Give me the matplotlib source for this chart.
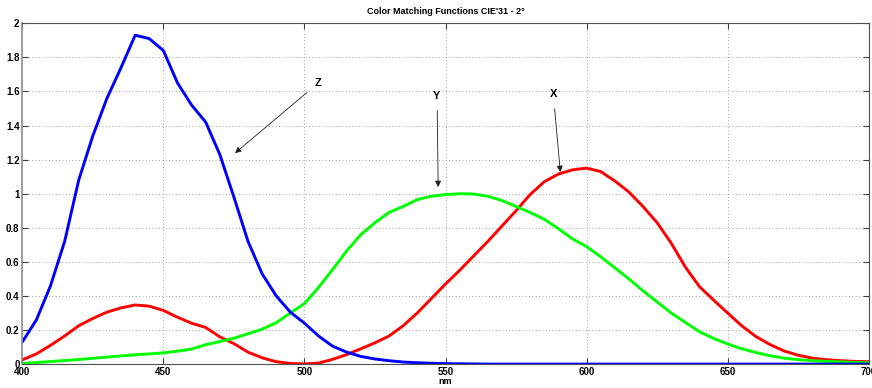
import numpy as np
import matplotlib
matplotlib.use('Agg')
import matplotlib.pyplot as plt

# wavelengths (nm), 5 nm steps
wavelengths = np.arange(400, 705, 5)

x_bar = [0.025, 0.06, 0.11, 0.165, 0.225, 0.268, 0.305, 0.33, 0.347, 0.34,
         0.315, 0.275, 0.24, 0.215, 0.16, 0.12, 0.07, 0.037, 0.014, 0.004,
         0.001, 0.006, 0.028, 0.056, 0.09, 0.125, 0.165, 0.225, 0.30, 0.385,
         0.47, 0.55, 0.635, 0.72, 0.81, 0.90, 0.995, 1.07, 1.115, 1.14,
         1.15, 1.13, 1.075, 1.01, 0.925, 0.83, 0.71, 0.57, 0.455, 0.376,
         0.30, 0.225, 0.162, 0.115, 0.077, 0.052, 0.035, 0.026, 0.02, 0.016,
         0.014]

y_bar = [0.004, 0.009, 0.015, 0.021, 0.027, 0.034, 0.041, 0.048, 0.055, 0.06,
         0.066, 0.076, 0.088, 0.114, 0.132, 0.152, 0.178, 0.205, 0.243, 0.30,
         0.355, 0.45, 0.555, 0.665, 0.76, 0.83, 0.89, 0.925, 0.965, 0.985,
         0.995, 1.0, 0.998, 0.985, 0.96, 0.925, 0.89, 0.85, 0.795, 0.735,
         0.69, 0.63, 0.565, 0.50, 0.43, 0.365, 0.30, 0.245, 0.19, 0.151,
         0.118, 0.09, 0.068, 0.049, 0.035, 0.026, 0.02, 0.016, 0.013, 0.01,
         0.008]

z_bar = [0.13, 0.26, 0.46, 0.72, 1.08, 1.34, 1.56, 1.74, 1.93, 1.91,
         1.84, 1.65, 1.52, 1.42, 1.23, 0.98, 0.72, 0.53, 0.40, 0.305,
         0.24, 0.165, 0.105, 0.07, 0.045, 0.03, 0.02, 0.012, 0.008, 0.005,
         0.003, 0.002, 0.001] + [0.0] * 28

# label text, arrow tip, text position (data coords)
labels = ['Z', 'Y', 'X']
tips = [(475.4, 1.238), (547.4, 1.039), (590.7, 1.127)]
text_pos = [(504.9, 1.65), (547.0, 1.575), (588.2, 1.585)]

x_ticks = [400, 450, 500, 550, 600, 650, 700]
y_ticks = [0, 0.2, 0.4, 0.6, 0.8, 1, 1.2, 1.4, 1.6, 1.8, 2]

plt.rcParams['font.family'] = ['Liberation Sans', 'DejaVu Sans']

fig = plt.figure(figsize=(8.72, 3.88), dpi=100)
ax = fig.add_axes([0.0256, 0.0616, 0.9706, 0.8784])

line_kw = dict(lw=2.1, solid_joinstyle='round', solid_capstyle='round')
ax.plot(wavelengths, x_bar, color='#ff0000', **line_kw)
ax.plot(wavelengths, y_bar, color='#00ff00', **line_kw)
ax.plot(wavelengths, z_bar, color='#0000ff', **line_kw)

for lab, tip, pos in zip(labels, tips, text_pos):
    ax.annotate(lab, xy=tip, xytext=pos, fontsize=8, fontweight='bold',
                ha='center', va='center',
                arrowprops=dict(arrowstyle='-|>', color='#202020', lw=0.6,
                                mutation_scale=9, shrinkA=5, shrinkB=0))

ax.set_xlim(400, 700)
ax.set_ylim(0, 2)
ax.set_xticks(x_ticks)
ax.set_yticks(y_ticks)
ax.set_yticklabels(['0', '0.2', '0.4', '0.6', '0.8', '1', '1.2', '1.4', '1.6', '1.8', '2'])
ax.tick_params(direction='in', length=4, width=0.8, labelsize=7,
               top=True, right=True, pad=2, color='#404040')
for lbl in ax.get_xticklabels() + ax.get_yticklabels():
    lbl.set_fontweight('bold')

ax.grid(True, linestyle=(0, (1, 3)), color='#808080', lw=0.6)
for side in ['left', 'bottom', 'top', 'right']:
    ax.spines[side].set_color('#505050')
ax.spines['left'].set_color('#909090')
ax.spines['left'].set_linewidth(1.2)

ax.set_title("Color Matching Functions CIE'31 - 2°", fontsize=6.5,
             fontweight='bold', pad=7)
ax.set_xlabel('nm', fontsize=6.5, fontweight='bold', labelpad=0)

fig.savefig('out.png', dpi=100)
